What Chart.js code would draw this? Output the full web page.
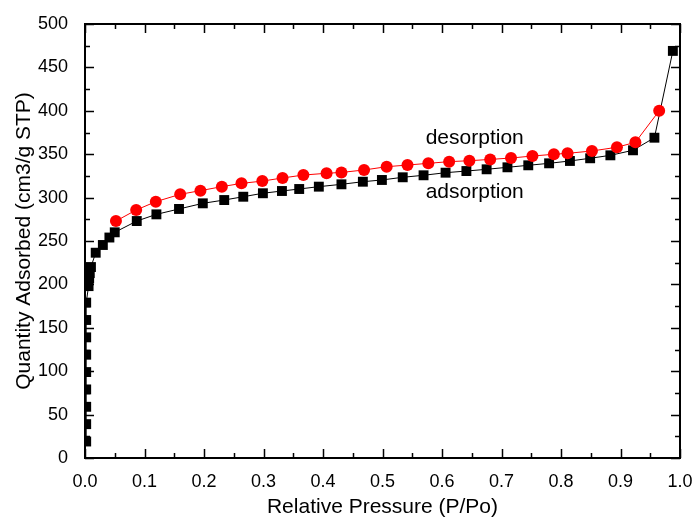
<!DOCTYPE html>
<html>
<head>
<meta charset="utf-8">
<script src="https://cdn.jsdelivr.net/npm/chart.js@4.4.1/dist/chart.umd.min.js"></script>
<style>
  html, body { margin: 0; padding: 0; background: #fff; }
  #wrap { width: 692px; height: 520px; }
</style>
</head>
<body>
<div id="wrap"><canvas id="mycanvas" width="692" height="520"></canvas></div>
<script>
// adsorption branch (squares)
var adsP = [0.002, 0.002, 0.002, 0.002, 0.002, 0.002, 0.002, 0.002, 0.002,
  0.006, 0.007, 0.008, 0.010, 0.018, 0.030, 0.041, 0.050, 0.087, 0.120, 0.158,
  0.198, 0.234, 0.266, 0.299, 0.331, 0.360, 0.393, 0.431, 0.467, 0.499, 0.534,
  0.569, 0.606, 0.641, 0.675, 0.710, 0.745, 0.780, 0.815, 0.849, 0.883, 0.921,
  0.957, 0.988];
var adsQ = [19, 39, 59, 79, 99, 119, 139, 159, 179,
  198, 207, 213, 220, 236.5, 245.4, 254, 260, 273, 280.7, 286.9,
  293.4, 297.2, 301, 305, 307.6, 309.9, 312.6, 315.3, 318.3, 320.3, 323.4,
  325.7, 328.7, 330.6, 332.6, 334.9, 337.2, 339.5, 342.2, 345.3, 348.7, 354.5,
  369, 469];

// desorption branch (circles)
var desP = [0.965, 0.925, 0.894, 0.852, 0.811, 0.788, 0.752, 0.716, 0.681,
  0.646, 0.612, 0.577, 0.542, 0.507, 0.469, 0.431, 0.406, 0.367, 0.332, 0.298,
  0.263, 0.230, 0.194, 0.160, 0.119, 0.086, 0.052];
var desQ = [400, 363.7, 358, 353.7, 351, 349.9, 347.9, 345.6, 344,
  342.5, 341.4, 339.5, 337.5, 335.6, 331.8, 329, 328, 326, 322.6, 319,
  316.4, 312.6, 308, 303.8, 295.3, 285.7, 273];

var xTitle = 'Relative Pressure (P/Po)';
var yTitle = 'Quantity Adsorbed (cm3/g STP)';
var notes = [
  { text: 'desorption', p: 0.655, q: 369 },
  { text: 'adsorption', p: 0.655, q: 306 }
];

var FONT = "'Liberation Sans', Arial, sans-serif";

function pts(xs, ys) {
  var out = [];
  for (var i in xs) out.push({ x: xs[i], y: ys[i] });
  return out;
}

// frame, inward ticks on all four sides, and the two labels
var framePlugin = {
  id: 'frame',
  afterDatasetsDraw: function(chart) {
    var ctx = chart.ctx, a = chart.chartArea;
    var xs = chart.scales.x, ys = chart.scales.y;
    ctx.save();
    ctx.strokeStyle = '#000';
    ctx.lineWidth = 2;
    ctx.strokeRect(a.left, a.top, a.right - a.left, a.bottom - a.top);
    ctx.lineWidth = 1.5;
    ctx.beginPath();
    for (var i = 0; i <= 20; i++) {
      var v = i * 0.05;
      var px = Math.round(xs.getPixelForValue(v)) + 0.5;
      var len = (i % 2 === 0) ? 9 : 5;
      ctx.moveTo(px, a.bottom); ctx.lineTo(px, a.bottom - len);
      ctx.moveTo(px, a.top); ctx.lineTo(px, a.top + len);
    }
    for (var j = 0; j <= 20; j++) {
      var q = j * 25;
      var py = Math.round(ys.getPixelForValue(q)) + 0.5;
      var l2 = (j % 2 === 0) ? 9 : 5;
      ctx.moveTo(a.left, py); ctx.lineTo(a.left + l2, py);
      ctx.moveTo(a.right, py); ctx.lineTo(a.right - l2, py);
    }
    ctx.stroke();

    ctx.fillStyle = '#000';
    ctx.font = '21px ' + FONT;
    ctx.textAlign = 'center';
    ctx.textBaseline = 'middle';
    notes.forEach(function(n) {
      ctx.fillText(n.text, xs.getPixelForValue(n.p), ys.getPixelForValue(n.q));
    });
    ctx.restore();
  }
};

var ctx = document.getElementById('mycanvas');
var chart = new Chart(ctx, {
  type: 'scatter',
  data: {
    datasets: [
      {
        label: 'desorption',
        data: pts(desP, desQ),
        showLine: true,
        borderColor: '#ff0000',
        borderWidth: 1,
        backgroundColor: '#ff0000',
        pointStyle: 'circle',
        pointRadius: 6,
        pointBorderWidth: 0
      },
      {
        label: 'adsorption',
        data: pts(adsP, adsQ),
        showLine: true,
        borderColor: '#000',
        borderWidth: 1,
        backgroundColor: '#000',
        pointStyle: 'rect',
        pointRadius: 7,
        pointBorderWidth: 0
      }
    ]
  },
  options: {
    responsive: false,
    animation: false,
    events: [],
    layout: { padding: { top: 24, right: 12, left: 0, bottom: 0 } },
    plugins: {
      legend: { display: false },
      tooltip: { enabled: false }
    },
    scales: {
      x: {
        type: 'linear',
        min: 0, max: 1,
        grid: { display: false },
        border: { display: false },
        ticks: {
          stepSize: 0.1,
          padding: 5,
          color: '#000',
          font: { family: FONT, size: 18 },
          maxRotation: 0,
          callback: function(v) { return v.toFixed(1); }
        },
        title: {
          display: true,
          text: xTitle,
          color: '#000',
          font: { family: FONT, size: 21 },
          padding: { top: 8, bottom: 0 }
        },
        afterFit: function(s) {
          s.height = 62;
          s.paddingLeft = 0;
          s.paddingRight = 0;
        }
      },
      y: {
        type: 'linear',
        min: 0, max: 500,
        grid: { display: false },
        border: { display: false },
        ticks: {
          stepSize: 50,
          padding: 9,
          color: '#000',
          font: { family: FONT, size: 18 }
        },
        title: {
          display: true,
          text: yTitle,
          color: '#000',
          font: { family: FONT, size: 21 },
          padding: { top: 12, bottom: 6 }
        },
        afterFit: function(s) {
          s.width = 85;
          s.paddingTop = 0;
          s.paddingBottom = 0;
        }
      }
    }
  },
  plugins: [framePlugin]
});
</script>
</body>
</html>
